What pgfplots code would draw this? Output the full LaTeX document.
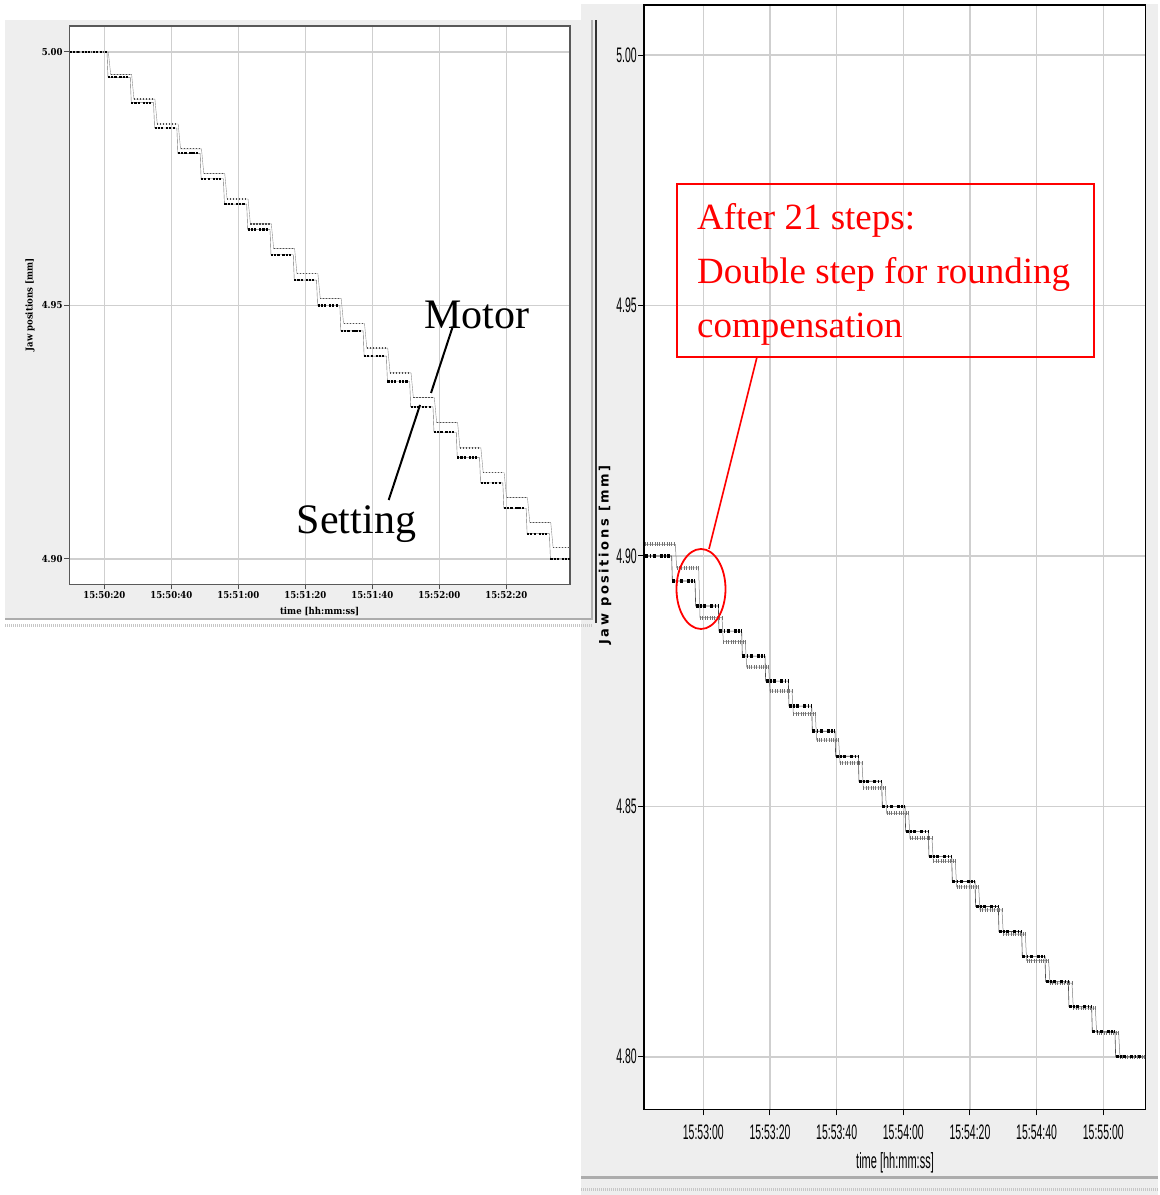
\documentclass[border=0pt]{standalone}
\usepackage{pgfplots}
\pgfplotsset{compat=1.18}
\usepackage{pgfplotstable}
\usepackage{fontspec}
\setmainfont{Liberation Serif}
\newfontfamily\lsfont[FakeStretch=0.9]{DejaVu Serif}
\newfontfamily\rsfont[FakeStretch=0.5]{Liberation Sans}
\newfontfamily\rlabfont[LetterSpace=20]{DejaVu Sans}
\definecolor{panelgray}{HTML}{EEEEEE}
\definecolor{gridgray}{HTML}{CFCFCF}

% ---------------- left panel: 15:50:00 + t [s] ----------------
\pgfplotstableread{
t y
9.8 5.000
20.8 5.000
nan nan
21.1 4.995
27.75 4.995
nan nan
28.05 4.990
34.7 4.990
nan nan
35.0 4.985
41.65 4.985
nan nan
41.95 4.980
48.6 4.980
nan nan
48.9 4.975
55.55 4.975
nan nan
55.85 4.970
62.5 4.970
nan nan
62.8 4.965
69.45 4.965
nan nan
69.75 4.960
76.4 4.960
nan nan
76.7 4.955
83.35 4.955
nan nan
83.65 4.950
90.3 4.950
nan nan
90.6 4.945
97.25 4.945
nan nan
97.55 4.940
104.2 4.940
nan nan
104.5 4.935
111.15 4.935
nan nan
111.45 4.930
118.1 4.930
nan nan
118.4 4.925
125.05 4.925
nan nan
125.35 4.920
132.0 4.920
nan nan
132.3 4.915
138.95 4.915
nan nan
139.25 4.910
145.9 4.910
nan nan
146.2 4.905
152.85 4.905
nan nan
153.15 4.900
159.0 4.900
}\leftSetting

\pgfplotstableread{
t y
9.8 5.0000
21.2 5.0000
nan nan
21.9 4.9956
28.15 4.9956
nan nan
28.85 4.9907
35.1 4.9907
nan nan
35.8 4.9858
42.05 4.9858
nan nan
42.75 4.9809
49.0 4.9809
nan nan
49.7 4.9760
55.95 4.9760
nan nan
56.65 4.9710
62.9 4.9710
nan nan
63.6 4.9661
69.85 4.9661
nan nan
70.55 4.9612
76.8 4.9612
nan nan
77.5 4.9563
83.75 4.9563
nan nan
84.45 4.9514
90.7 4.9514
nan nan
91.4 4.9465
97.65 4.9465
nan nan
98.35 4.9416
104.6 4.9416
nan nan
105.3 4.9367
111.55 4.9367
nan nan
112.25 4.9318
118.5 4.9318
nan nan
119.2 4.9269
125.45 4.9269
nan nan
126.15 4.9219
132.4 4.9219
nan nan
133.1 4.9170
139.35 4.9170
nan nan
140.05 4.9121
146.3 4.9121
nan nan
147.0 4.9072
153.25 4.9072
nan nan
153.95 4.9023
159.0 4.9023
}\leftMotor

% ---------------- right panel: 15:52:00 + t [s] ----------------
\pgfplotstableread{
t y
42.5 4.900
50.5 4.900
nan nan
50.7 4.895
57.5 4.895
nan nan
57.7 4.890
64.5 4.890
nan nan
64.7 4.885
71.5 4.885
nan nan
71.7 4.880
78.5 4.880
nan nan
78.7 4.875
85.5 4.875
nan nan
85.7 4.870
92.5 4.870
nan nan
92.7 4.865
99.5 4.865
nan nan
99.7 4.860
106.5 4.860
nan nan
106.7 4.855
113.5 4.855
nan nan
113.7 4.850
120.5 4.850
nan nan
120.7 4.845
127.5 4.845
nan nan
127.7 4.840
134.5 4.840
nan nan
134.7 4.835
141.5 4.835
nan nan
141.7 4.830
148.5 4.830
nan nan
148.7 4.825
155.5 4.825
nan nan
155.7 4.820
162.5 4.820
nan nan
162.7 4.815
169.5 4.815
nan nan
169.7 4.810
176.5 4.810
nan nan
176.7 4.805
183.5 4.805
nan nan
183.7 4.800
192.6 4.800
}\rightSetting

\pgfplotstableread{
t y
42.5 4.9023
51.6 4.9023
nan nan
52.0 4.8976
58.6 4.8976
nan nan
59.0 4.8877
65.6 4.8877
nan nan
66.0 4.8829
72.6 4.8829
nan nan
73.0 4.8778
79.6 4.8778
nan nan
80.0 4.8730
86.6 4.8730
nan nan
87.0 4.8685
93.6 4.8685
nan nan
94.0 4.8632
100.6 4.8632
nan nan
101.0 4.8587
107.6 4.8587
nan nan
108.0 4.8537
114.6 4.8537
nan nan
115.0 4.8486
121.6 4.8486
nan nan
122.0 4.8436
128.6 4.8436
nan nan
129.0 4.8390
135.6 4.8390
nan nan
136.0 4.8339
142.6 4.8339
nan nan
143.0 4.8293
149.6 4.8293
nan nan
150.0 4.8245
156.6 4.8245
nan nan
157.0 4.8192
163.6 4.8192
nan nan
164.0 4.8147
170.6 4.8147
nan nan
171.0 4.8097
177.6 4.8097
nan nan
178.0 4.8048
184.6 4.8048
nan nan
185.0 4.7999
192.6 4.7999
}\rightMotor

\begin{document}
\begin{tikzpicture}
% ---- panel backgrounds (1pt = 1px, y measured upward) ----
\begin{scope}[x=1pt,y=1pt]
\fill[white] (0,0) rectangle (1158,1195);
\fill[panelgray] (581,0) rectangle (1158,1191);
\draw[gray!65, line width=3pt] (581,17) -- (1158,17);
\draw[gray!45, line width=3pt, dash pattern=on 1pt off 1pt] (581,5) -- (1158,5);
\fill[panelgray] (5,576) rectangle (592,1175);
\draw[gray!65, line width=2pt] (5,575.5) -- (592,575.5);
\draw[gray!45, line width=3pt, dash pattern=on 1pt off 1pt] (5,569) -- (592,569);
\draw[gray!60, line width=1.3pt] (592,575) -- (592,1175);
\draw[black!80, line width=1.3pt] (596,572) -- (596,1175);
\end{scope}

% ---------------- left axis ----------------
\begin{axis}[
  at={(69.3pt,610.7pt)}, anchor=south west,
  scale only axis, width=500.7pt, height=558.3pt,
  xmin=9.55, xmax=159.0, ymin=4.8950, ymax=5.00513,
  xtick={20,40,60,80,100,120,140},
  xticklabels={15:50:20,15:50:40,15:51:00,15:51:20,15:51:40,15:52:00,15:52:20},
  ytick={4.90,4.95,5.00}, yticklabels={4.90,4.95,5.00},
  tick pos=left, tick align=outside, major tick length=5pt,
  major tick style={black!70, line width=1pt},
  grid=major, major grid style={draw=gridgray, line width=1.2pt},
  axis line style={draw=black!65, line width=1.3pt},
  axis background/.style={fill=white},
  tick label style={font=\lsfont\bfseries\fontsize{9.5}{11}\selectfont, inner sep=1.5pt},
  xlabel={time [hh:mm:ss]}, ylabel={Jaw positions [mm]},
  label style={font=\lsfont\bfseries\fontsize{9.5}{11}\selectfont},
  xlabel style={at={(axis description cs:0.5,-0.0496)}, anchor=center},
  ylabel style={at={(axis description cs:-0.0785,0.5)}, anchor=center, rotate=0},
]
\addplot[black!45, line width=0.4pt, unbounded coords=discard] table[x=t,y=y] {\leftMotor};
\addplot[black!55, line width=0.4pt, unbounded coords=discard] table[x=t,y=y] {\leftSetting};
\addplot[black!70, line width=1.3pt, dash pattern=on 1.2pt off 1.8pt, unbounded coords=jump] table[x=t,y=y] {\leftMotor};
\addplot[black, line width=2.2pt, dash pattern=on 2.2pt off 0.9pt on 2.2pt off 1.2pt on 2.2pt off 2.8pt, unbounded coords=jump] table[x=t,y=y] {\leftSetting};
\end{axis}

% ---------------- right axis ----------------
\begin{axis}[
  at={(644pt,85.7pt)}, anchor=south west,
  scale only axis, width=501.3pt, height=1104.3pt,
  xmin=42.2, xmax=192.6, ymin=4.7895, ymax=5.01002,
  xtick={60,80,100,120,140,160,180},
  xticklabels={15:53:00,15:53:20,15:53:40,15:54:00,15:54:20,15:54:40,15:55:00},
  ytick={4.80,4.85,4.90,4.95,5.00}, yticklabels={4.80,4.85,4.90,4.95,5.00},
  tick pos=left, tick align=outside, major tick length=6pt,
  major tick style={black, line width=1pt},
  grid=major, major grid style={draw=gridgray, line width=1.6pt},
  axis line style={draw=black, line width=1.4pt},
  axis background/.style={fill=white},
  tick label style={font=\rsfont\fontsize{21}{24}\selectfont},
  yticklabel style={inner sep=1pt},
  xticklabel style={yshift=-6pt},
  xlabel={time [hh:mm:ss]}, ylabel={Jaw positions [mm]},
  xlabel style={font=\rsfont\fontsize{22}{26}\selectfont, at={(axis description cs:0.5007,-0.0486)}, anchor=center},
  ylabel style={font=\rlabfont\bfseries\fontsize{13}{15}\selectfont, at={(axis description cs:-0.0778,0.502)}, anchor=center, rotate=0},
]
\addplot[black!50, line width=0.5pt, unbounded coords=discard] table[x=t,y=y] {\rightMotor};
\addplot[black!70, line width=0.6pt, unbounded coords=discard] table[x=t,y=y] {\rightSetting};
\addplot[black!55, line width=4pt, dash pattern=on 1pt off 1.4pt, unbounded coords=jump] table[x=t,y=y] {\rightMotor};
\addplot[black, line width=3.5pt, dash pattern=on 3pt off 1.5pt on 1.5pt off 1.5pt on 3pt off 4pt, unbounded coords=jump] table[x=t,y=y] {\rightSetting};
\end{axis}

% ---------------- annotations ----------------
\begin{scope}[x=1pt,y=1pt]
\node[anchor=base, inner sep=0, font=\fontsize{42}{50}\selectfont] at (477,866.7) {Motor};
\node[anchor=base, inner sep=0, font=\fontsize{42}{50}\selectfont] at (356.5,661.7) {Setting};
\draw[black, line width=2pt] (452.7,868.3) -- (431,802);
\draw[black, line width=2pt] (388.7,695) -- (420,790);
\draw[red, line width=1.6pt] (677,838) rectangle (1094,1011);
\node[anchor=base west, inner sep=0, text=red, font=\fontsize{37}{44}\selectfont] at (697,965) {After 21 steps:};
\node[anchor=base west, inner sep=0, text=red, font=\fontsize{37}{44}\selectfont] at (697,911) {Double step for rounding};
\node[anchor=base west, inner sep=0, text=red, font=\fontsize{37}{44}\selectfont] at (697,857) {compensation};
\draw[red, line width=1.6pt] (757,838) -- (709,646);
\draw[red, line width=1.8pt] (701,606) ellipse [x radius=24.5pt, y radius=40pt];
\end{scope}
\end{tikzpicture}
\end{document}
